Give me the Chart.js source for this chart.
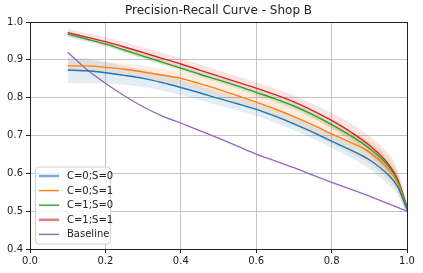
<!DOCTYPE html>
<html>
<head>
<meta charset="utf-8">
<script src="https://cdn.jsdelivr.net/npm/chart.js@4"></script>
<style>
  html, body { margin: 0; padding: 0; background: #fff; }
  #wrap { width: 423px; height: 273px; }
</style>
</head>
<body>
<div id="wrap"><canvas id="myChart" width="423" height="273"></canvas></div>
<script>
// recall values along the x axis
const recall = [0.1, 0.15, 0.2, 0.25, 0.3, 0.35, 0.4, 0.45, 0.5, 0.55, 0.6, 0.65, 0.7, 0.75, 0.8, 0.85, 0.9, 0.95, 0.975, 1.0];

// precision per setting (mean)
const c0s0 = [0.873, 0.871, 0.866, 0.859, 0.851, 0.840, 0.827, 0.813, 0.798, 0.784, 0.769, 0.751, 0.731, 0.709, 0.685, 0.662, 0.636, 0.596, 0.565, 0.505];
const c0s1 = [0.884, 0.884, 0.880, 0.875, 0.868, 0.860, 0.851, 0.837, 0.822, 0.805, 0.788, 0.770, 0.750, 0.728, 0.704, 0.682, 0.656, 0.612, 0.575, 0.505];
const c1s0 = [0.968, 0.955, 0.942, 0.926, 0.910, 0.894, 0.878, 0.862, 0.847, 0.831, 0.814, 0.797, 0.778, 0.755, 0.729, 0.700, 0.666, 0.620, 0.582, 0.510];
const c1s1 = [0.972, 0.960, 0.948, 0.934, 0.919, 0.904, 0.889, 0.873, 0.857, 0.841, 0.825, 0.808, 0.789, 0.766, 0.740, 0.710, 0.674, 0.625, 0.585, 0.510];
const baseline = [0.920, 0.875, 0.838, 0.805, 0.776, 0.752, 0.733, 0.713, 0.693, 0.672, 0.651, 0.633, 0.615, 0.595, 0.576, 0.558, 0.540, 0.520, 0.510, 0.500];

// +/- spread for the shaded bands
const c0s0Spread = [0.035, 0.032, 0.028, 0.025, 0.023, 0.021, 0.020, 0.019, 0.018, 0.017, 0.017, 0.017, 0.017, 0.017, 0.018, 0.020, 0.024, 0.026, 0.022, 0.012];
const c0s1Spread = [0.015, 0.015, 0.015, 0.015, 0.016, 0.017, 0.018, 0.019, 0.020, 0.021, 0.022, 0.023, 0.024, 0.025, 0.026, 0.028, 0.030, 0.030, 0.025, 0.012];
const c1s0Spread = [0.006, 0.006, 0.006, 0.007, 0.007, 0.007, 0.008, 0.008, 0.008, 0.008, 0.009, 0.009, 0.010, 0.010, 0.011, 0.012, 0.013, 0.014, 0.013, 0.010];
const c1s1Spread = [0.010, 0.011, 0.012, 0.013, 0.014, 0.015, 0.015, 0.015, 0.015, 0.015, 0.016, 0.016, 0.017, 0.018, 0.020, 0.022, 0.025, 0.028, 0.025, 0.015];

const xTicks = [0.0, 0.2, 0.4, 0.6, 0.8, 1.0];
const yTicks = [0.4, 0.5, 0.6, 0.7, 0.8, 0.9, 1.0];

const series = [
  { label: "C=0;S=0", values: c0s0, spread: c0s0Spread, color: "31,119,180", handleWidth: 2.6, handleAlpha: 0.6 },
  { label: "C=0;S=1", values: c0s1, spread: c0s1Spread, color: "255,127,14", handleWidth: 1.4, handleAlpha: 1 },
  { label: "C=1;S=0", values: c1s0, spread: c1s0Spread, color: "44,160,44", handleWidth: 1.4, handleAlpha: 1 },
  { label: "C=1;S=1", values: c1s1, spread: c1s1Spread, color: "214,39,40", handleWidth: 2.6, handleAlpha: 0.6 }
];

const pts = (ys) => recall.map((x, i) => ({ x: x, y: ys[i] }));

const datasets = [];
series.forEach(s => {
  datasets.push({
    label: s.label + " hi",
    data: pts(s.values.map((v, i) => v + s.spread[i])),
    borderWidth: 0,
    pointRadius: 0,
    backgroundColor: "rgba(" + s.color + ",0.13)",
    fill: "+1",
    order: 2
  });
  datasets.push({
    label: s.label + " lo",
    data: pts(s.values.map((v, i) => v - s.spread[i])),
    borderWidth: 0,
    pointRadius: 0,
    fill: false,
    order: 2
  });
});
series.forEach(s => {
  datasets.push({
    label: s.label,
    data: pts(s.values),
    borderColor: "rgb(" + s.color + ")",
    borderWidth: 1.4,
    pointRadius: 0,
    fill: false,
    order: 1
  });
});
datasets.push({
  label: "Baseline",
  data: pts(baseline),
  borderColor: "rgb(148,103,189)",
  borderWidth: 1.3,
  pointRadius: 0,
  fill: false,
  order: 1
});

// frame round the plot + legend box in lower left
const framePlugin = {
  id: "frame",
  afterDraw(chart) {
    const ctx = chart.ctx;
    const a = chart.chartArea;
    ctx.save();
    ctx.strokeStyle = "#222";
    ctx.lineWidth = 1;
    ctx.strokeRect(Math.round(a.left) + 0.5, Math.round(a.top) + 0.5,
      Math.round(a.right - a.left), Math.round(a.bottom - a.top));

    // legend
    const entries = series.map(s => ({ label: s.label, color: "rgba(" + s.color + "," + s.handleAlpha + ")", w: s.handleWidth }));
    entries.push({ label: "Baseline", color: "rgb(148,103,189)", w: 1.4 });
    const lx = a.left + 5, lw = 75, rowH = 14.6, lh = 77;
    const ly = a.bottom - 5.5 - lh;
    ctx.fillStyle = "rgba(255,255,255,0.85)";
    ctx.strokeStyle = "#d0d0d0";
    ctx.lineWidth = 1;
    ctx.beginPath();
    ctx.roundRect(lx + 0.5, ly + 0.5, lw, lh, 3);
    ctx.fill();
    ctx.stroke();
    ctx.font = "10px 'DejaVu Sans'";
    ctx.textBaseline = "middle";
    ctx.textAlign = "left";
    entries.forEach((e, i) => {
      const y = ly + 9.5 + i * rowH;
      ctx.strokeStyle = e.color;
      ctx.lineWidth = e.w;
      ctx.beginPath();
      ctx.moveTo(lx + 4, y);
      ctx.lineTo(lx + 24, y);
      ctx.stroke();
      ctx.fillStyle = "#222";
      ctx.fillText(e.label, lx + 32, y + 0.5);
    });
    ctx.restore();
  }
};

const ctx = document.getElementById("myChart");

new Chart(ctx, {
  type: "line",
  data: { datasets: datasets },
  options: {
    responsive: false,
    animation: false,
    layout: { padding: { left: 0, right: 16, top: 0, bottom: 0 } },
    elements: { line: { cubicInterpolationMode: "monotone" } },
    plugins: {
      legend: { display: false },
      tooltip: { enabled: false },
      title: {
        display: true,
        fullSize: false,
        text: "Precision-Recall Curve - Shop B",
        color: "#222",
        font: { family: "DejaVu Sans", size: 12, weight: "normal", lineHeight: 1.2 },
        padding: { top: 4, bottom: 3.6 }
      }
    },
    scales: {
      x: {
        type: "linear",
        min: 0,
        max: 1,
        afterBuildTicks: (scale) => { scale.ticks = xTicks.map(v => ({ value: v })); },
        afterFit: (scale) => { scale.height = 24; },
        border: { display: false },
        grid: { color: "#c4c4c4", lineWidth: 1, tickColor: "#222", tickLength: 4 },
        ticks: {
          color: "#222",
          padding: 2,
          maxRotation: 0,
          font: { family: "DejaVu Sans", size: 10 },
          callback: (v) => Number(v).toFixed(1)
        }
      },
      y: {
        type: "linear",
        min: 0.4,
        max: 1.0,
        afterBuildTicks: (scale) => { scale.ticks = yTicks.map(v => ({ value: v })); },
        afterFit: (scale) => { scale.width = 30; },
        border: { display: false },
        grid: { color: "#c4c4c4", lineWidth: 1, tickColor: "#222", tickLength: 4 },
        ticks: {
          color: "#222",
          padding: 3,
          font: { family: "DejaVu Sans", size: 10 },
          callback: (v) => Number(v).toFixed(1)
        }
      }
    }
  },
  plugins: [framePlugin]
});
</script>
</body>
</html>
